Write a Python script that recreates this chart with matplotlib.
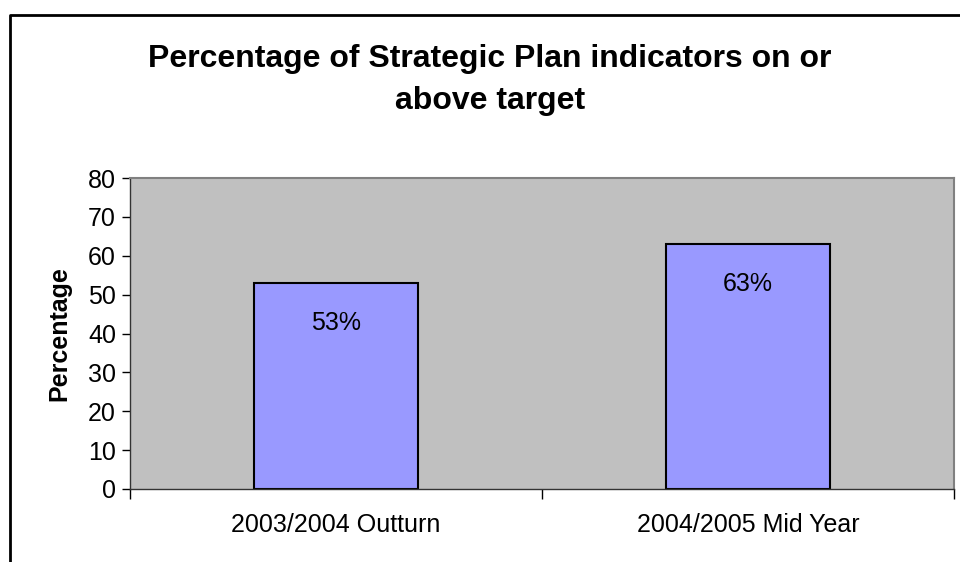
import matplotlib
matplotlib.use("Agg")
import matplotlib.pyplot as plt
from matplotlib.lines import Line2D

categories = ["2003/2004 Outturn", "2004/2005 Mid Year"]
values = [53, 63]
labels = ["53%", "63%"]
yticks = [0, 10, 20, 30, 40, 50, 60, 70, 80]

plt.rcParams['font.family'] = ['Liberation Sans', 'DejaVu Sans']

fig = plt.figure(figsize=(9.6, 5.62), dpi=100)
ax = fig.add_axes([130 / 960, 73 / 562, 824 / 960, 311 / 562])
ax.set_facecolor('#C0C0C0')

x = list(range(len(categories)))
ax.bar(x, values, width=0.4, color='#9999FF', edgecolor='black', linewidth=1.5, zorder=2)
for xi, v, lab in zip(x, values, labels):
    ax.annotate(lab, (xi, v), xytext=(0, -29), textcoords='offset points',
                ha='center', va='center', fontsize=18)

ax.set_xlim(-0.5, len(categories) - 0.5)
ax.set_ylim(0, 80)
ax.set_yticks(yticks)
ax.set_yticklabels([str(t) for t in yticks], fontsize=18)
ax.tick_params(axis='y', direction='out', length=6, width=1, pad=4)

# category labels centred, ticks at boundaries
ax.set_xticks(x)
ax.set_xticklabels(categories, fontsize=18)
ax.tick_params(axis='x', which='major', length=0, pad=17)
ax.set_xticks([-0.5, 0.5, 1.5], minor=True)
ax.tick_params(axis='x', which='minor', direction='out', length=7, width=1)

ax.set_ylabel("Percentage", fontsize=18, fontweight='bold', labelpad=12)

for side in ['top', 'right']:
    ax.spines[side].set_color('#808080')
    ax.spines[side].set_linewidth(1.5)
for side in ['left', 'bottom']:
    ax.spines[side].set_color('#333333')
    ax.spines[side].set_linewidth(1)

fig.text(490 / 960, 1 - 80 / 562, "Percentage of Strategic Plan indicators on or\nabove target",
         ha='center', va='center', fontsize=23, fontweight='bold', linespacing=1.55)

# outer chart border (only left and top visible)
fig.add_artist(Line2D([10 / 960, 10 / 960, 1.0], [0.0, 1 - 15 / 562, 1 - 15 / 562],
                      transform=fig.transFigure, color='black', linewidth=2))

fig.savefig("out.png", dpi=100, facecolor='white')
